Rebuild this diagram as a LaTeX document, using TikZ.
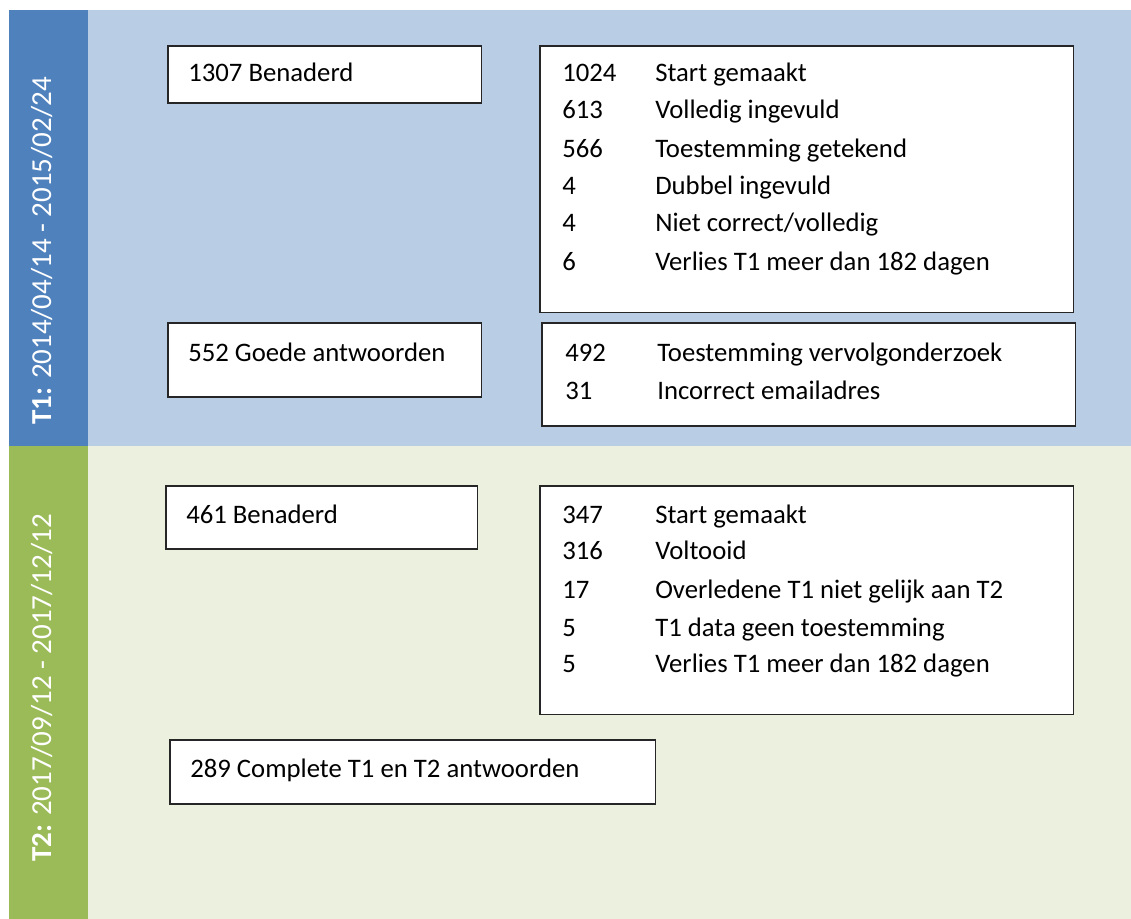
\documentclass[tikz,border=0pt]{standalone}
\usepackage{fontspec}
\setmainfont{Carlito}
\definecolor{bandblue}{HTML}{4F81BD}
\definecolor{paleblue}{HTML}{B9CDE5}
\definecolor{bandgreen}{HTML}{9BBB59}
\definecolor{palegreen}{HTML}{EBF1DE}

\begin{document}
\begin{tikzpicture}[x=0.025cm, y=-0.025cm,
      box/.style={rectangle, draw=black!85, line width=0.8pt, fill=white,
        inner sep=0pt, outer sep=0pt, anchor=north west},
      txt/.style={anchor=base west, inner sep=0pt, font=\fontsize{19}{22}\selectfont},
      period/.style={anchor=base west, inner sep=0pt, rotate=90, text=white,
        font=\fontsize{20.6}{24}\selectfont}]

    \useasboundingbox (0,0) rectangle (1131,919);

    \fill[paleblue]  (88,10)  rectangle (1131,446);
    \fill[bandblue]  (9,10)   rectangle (88,446);
    \fill[palegreen] (88,446) rectangle (1131,919);
    \fill[bandgreen] (9,446)  rectangle (88,919);

    \node[period] (p1) at (51,425) {\textbf{T1:} 2014/04/14 - 2015/02/24};
    \node[period] (p2) at (51,862) {\textbf{T2:} 2017/09/12 - 2017/12/12};

    \node[box, minimum width=7.825cm, minimum height=1.425cm] (benaderd1) at (168,46) {};
    \node[box, minimum width=13.325cm, minimum height=6.65cm] (stats1) at (540,46) {};
    \node[box, minimum width=7.825cm, minimum height=1.85cm] (goede) at (168,323) {};
    \node[box, minimum width=13.325cm, minimum height=2.575cm] (stats2) at (542,323) {};
    \node[box, minimum width=7.775cm, minimum height=1.575cm] (benaderd2) at (166,486) {};
    \node[box, minimum width=13.325cm, minimum height=5.7cm] (stats3) at (540,486) {};
    \node[box, minimum width=12.125cm, minimum height=1.6cm] (complete) at (170,740) {};

    \node[txt] (t1) at (188,82) {1307 Benaderd};
    \node[txt] (t2) at (188,361) {552 Goede antwoorden};
    \node[txt] (t3) at (186,523) {461 Benaderd};
    \node[txt] (t4) at (190,777) {289 Complete T1 en T2 antwoorden};

    \node[txt] (a1n) at (562,82)  {1024};
    \node[txt] (a1l) at (655,82)  {Start gemaakt};
    \node[txt] (a2n) at (562,119) {613};
    \node[txt] (a2l) at (655,119) {Volledig ingevuld};
    \node[txt] (a3n) at (562,158) {566};
    \node[txt] (a3l) at (655,158) {Toestemming getekend};
    \node[txt] (a4n) at (562,195) {4};
    \node[txt] (a4l) at (655,195) {Dubbel ingevuld};
    \node[txt] (a5n) at (562,232) {4};
    \node[txt] (a5l) at (655,232) {Niet correct/volledig};
    \node[txt] (a6n) at (562,270) {6};
    \node[txt] (a6l) at (655,270) {Verlies T1 meer dan 182 dagen};

    \node[txt] (b1n) at (565,361) {492};
    \node[txt] (b1l) at (657,361) {Toestemming vervolgonderzoek};
    \node[txt] (b2n) at (565,399) {31};
    \node[txt] (b2l) at (657,399) {Incorrect emailadres};

    \node[txt] (c1n) at (562,523) {347};
    \node[txt] (c1l) at (655,523) {Start gemaakt};
    \node[txt] (c2n) at (562,559) {316};
    \node[txt] (c2l) at (655,559) {Voltooid};
    \node[txt] (c3n) at (562,598) {17};
    \node[txt] (c3l) at (655,598) {Overledene T1 niet gelijk aan T2};
    \node[txt] (c4n) at (562,636) {5};
    \node[txt] (c4l) at (655,636) {T1 data geen toestemming};
    \node[txt] (c5n) at (562,672) {5};
    \node[txt] (c5l) at (655,672) {Verlies T1 meer dan 182 dagen};

  \end{tikzpicture}
\end{document}
